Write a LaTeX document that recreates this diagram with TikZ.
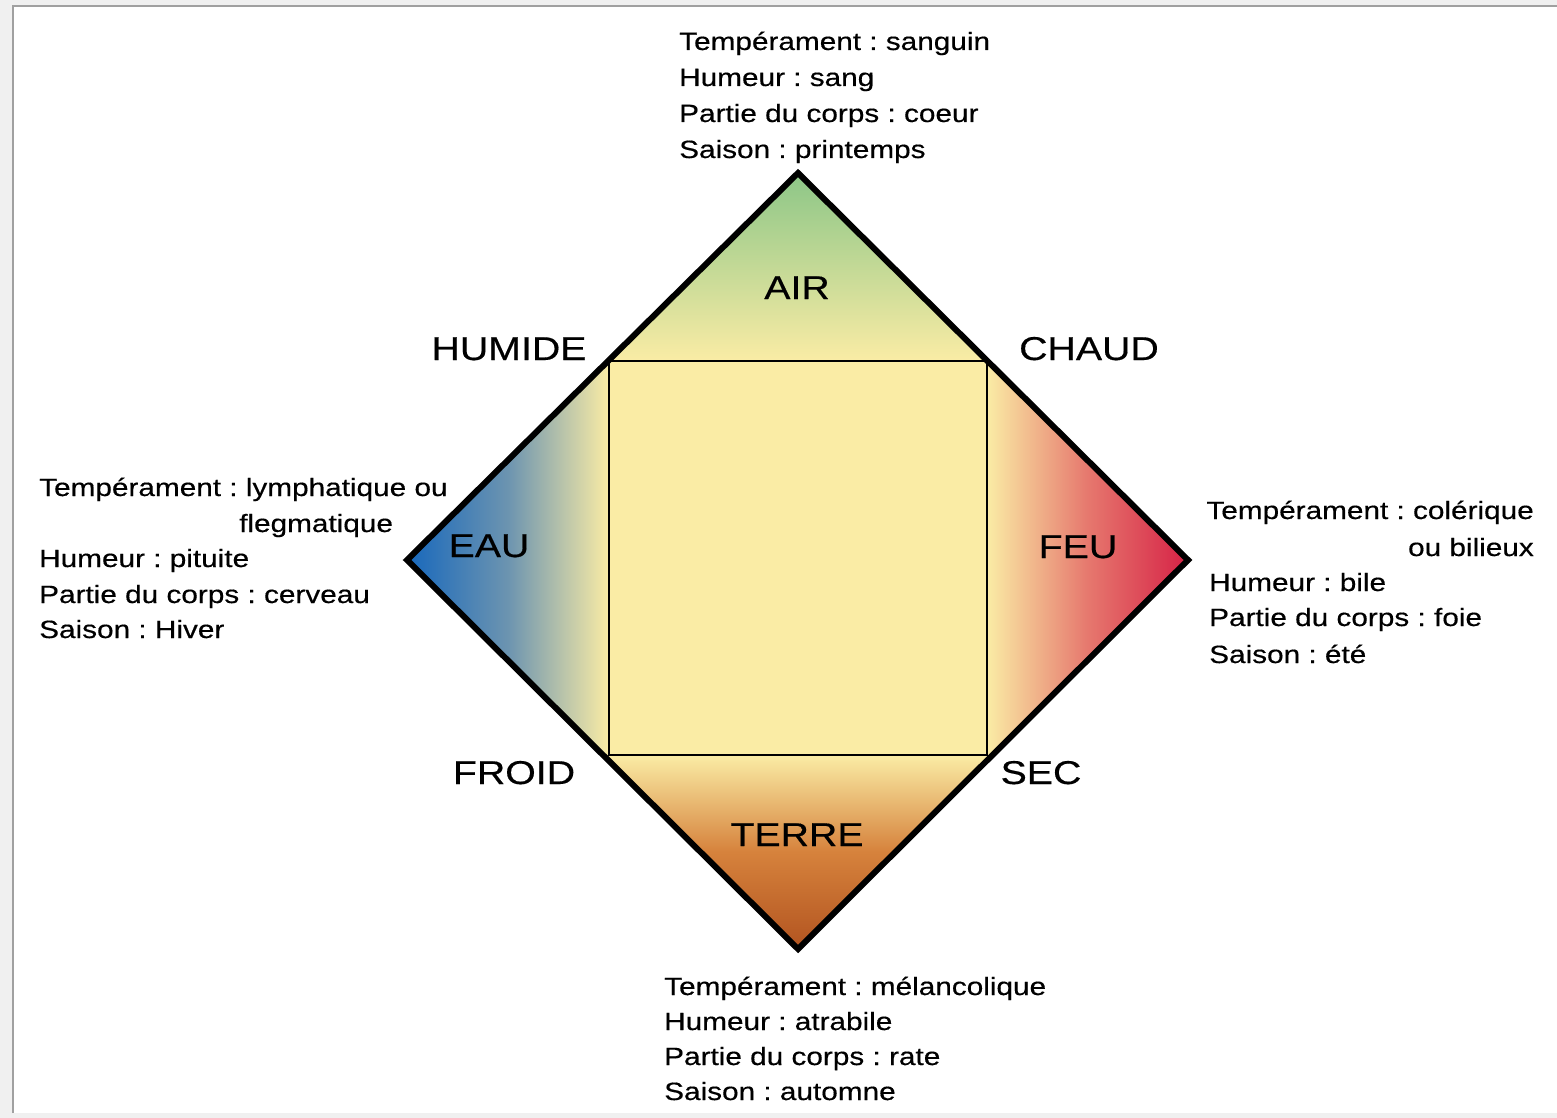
\documentclass[tikz,border=0pt]{standalone}
\usepackage{fontspec}
\setmainfont[FakeStretch=1.19,FakeBold=0.4]{Liberation Sans}
\frenchspacing
\definecolor{bggray}{RGB}{240,240,240}
\definecolor{framegray}{RGB}{160,160,160}
\definecolor{pale}{RGB}{250,236,165}
\definecolor{airgreen}{RGB}{140,198,135}
\definecolor{eaublue}{RGB}{24,104,188}
\definecolor{eaumid}{RGB}{108,148,176}
\definecolor{feured}{RGB}{214,34,70}
\definecolor{feumid}{RGB}{230,120,110}
\definecolor{terreorange}{RGB}{214,130,60}
\definecolor{terrebrown}{RGB}{178,84,32}
\begin{document}
\begin{tikzpicture}[x=1pt,y=-1pt,
  info/.style={anchor=base west, inner sep=0pt, font=\fontsize{25}{30}\selectfont},
  infor/.style={anchor=base east, inner sep=0pt, font=\fontsize{25}{30}\selectfont},
  lab/.style={anchor=base, inner sep=0pt, font=\fontsize{33}{40}\selectfont},
  diamondline/.style={line width=6pt, line join=miter},
  squareline/.style={line width=2pt}]
\useasboundingbox (0,0) rectangle (1557,1118);
% page background
\fill[bggray] (0,0) rectangle (1557,1118);
\fill[white] (14,7) rectangle (1557,1113);
\draw[framegray, line width=2pt] (13,1113) -- (13,6) -- (1557,6);
% geometry
\coordinate (T) at (798,173);
\coordinate (B) at (798,949);
\coordinate (L) at (407,560);
\coordinate (R) at (1188,560);
\coordinate (s1) at (609,361);
\coordinate (s2) at (987,361);
\coordinate (s3) at (987,755);
\coordinate (s4) at (609,755);
% fills
\begin{scope}
  \clip (T) -- (R) -- (B) -- (L) -- cycle;
  \fill[pale] (407,173) rectangle (1188,949);
  \shade[left color=eaublue, right color=pale, middle color=eaumid] (407,173) rectangle (609,949);
  \shade[left color=pale, right color=feured, middle color=feumid] (987,173) rectangle (1188,949);
  \shade[top color=airgreen, bottom color=pale] (609,173) rectangle (987,361);
  \shade[top color=pale, bottom color=terrebrown, middle color=terreorange] (609,755) rectangle (987,949);
  \fill[pale] (s1) rectangle (s3);
\end{scope}
\draw[squareline] (s1) -- (s2) -- (s3) -- (s4) -- cycle;
\draw[diamondline] (T) -- (R) -- (B) -- (L) -- cycle;
% element labels
\node[lab] (air) at (797,299) {AIR};
\node[lab] (eau) at (489,557) {EAU};
\node[lab] (feu) at (1078,558) {FEU};
\node[lab] (terre) at (797,846) {TERRE};
% quality labels
\node[lab] (humide) at (509,360) {HUMIDE};
\node[lab] (chaud) at (1089,360) {CHAUD};
\node[lab] (froid) at (514,784) {FROID};
\node[lab] (sec) at (1041,784) {SEC};
% top info
\node[info] (t1) at (679,50) {Tempérament : sanguin};
\node[info] (t2) at (679,86) {Humeur : sang};
\node[info] (t3) at (679,122) {Partie du corps : coeur};
\node[info] (t4) at (679,158) {Saison : printemps};
% left info
\node[info] (l1) at (39,496) {Tempérament : lymphatique ou};
\node[info] (l2) at (239,532) {flegmatique};
\node[info] (l3) at (39,567) {Humeur : pituite};
\node[info] (l4) at (39,603) {Partie du corps : cerveau};
\node[info] (l5) at (39,638) {Saison : Hiver};
% right info
\node[infor] (r1) at (1534,519) {Tempérament : colérique};
\node[infor] (r2) at (1534,556) {ou bilieux};
\node[info] (r3) at (1209,591) {Humeur : bile};
\node[info] (r4) at (1209,626) {Partie du corps : foie};
\node[info] (r5) at (1209,663) {Saison : été};
% bottom info
\node[info] (b1) at (664,995) {Tempérament : mélancolique};
\node[info] (b2) at (664,1030) {Humeur : atrabile};
\node[info] (b3) at (664,1065) {Partie du corps : rate};
\node[info] (b4) at (664,1100) {Saison : automne};
\end{tikzpicture}
\end{document}
